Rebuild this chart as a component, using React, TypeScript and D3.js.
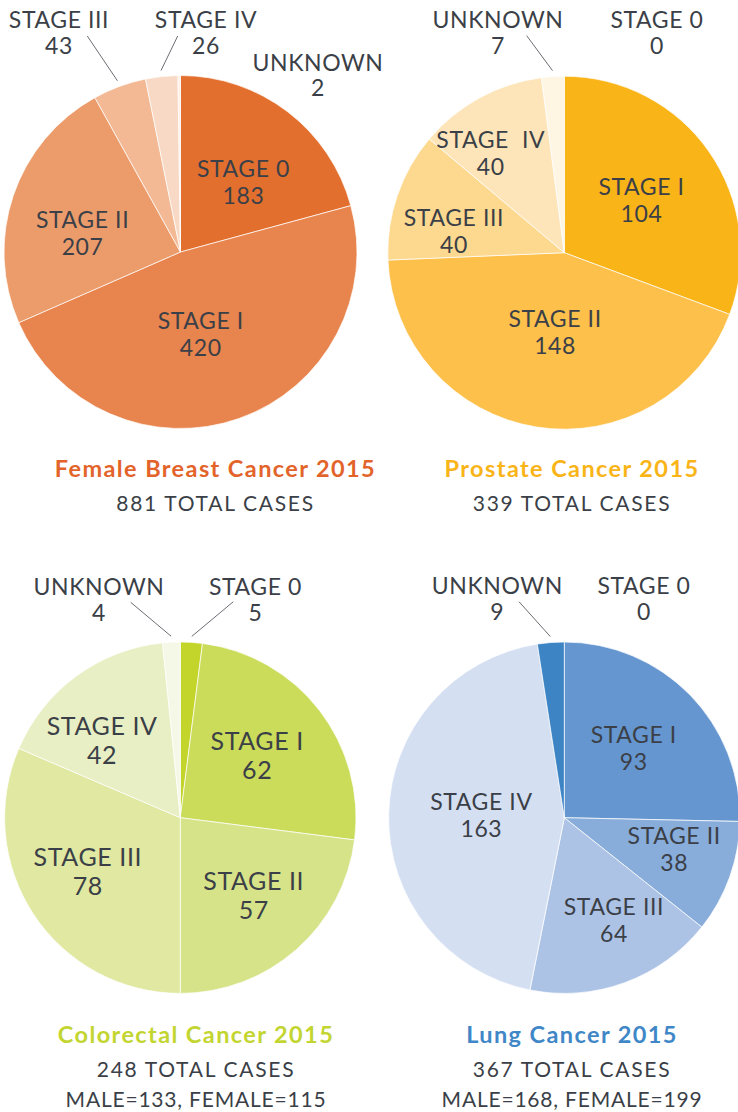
import * as d3 from 'd3';

// stage categories, clockwise from 12 o'clock
const stages = ['STAGE 0', 'STAGE I', 'STAGE II', 'STAGE III', 'STAGE IV', 'UNKNOWN'];
const prostateStageNames = ['STAGE 0', 'STAGE I', 'STAGE II', 'STAGE III', 'STAGE  IV', 'UNKNOWN'];

const breastValues = [183, 420, 207, 43, 26, 2];
const prostateValues = [0, 104, 148, 40, 40, 7];
const colorectalValues = [5, 62, 57, 78, 42, 4];
const lungValues = [0, 93, 38, 64, 163, 9];

const titles = ['Female Breast Cancer 2015', 'Prostate Cancer 2015', 'Colorectal Cancer 2015', 'Lung Cancer 2015'];
const totals = ['881 TOTAL CASES', '339 TOTAL CASES', '248 TOTAL CASES', '367 TOTAL CASES'];
const genderSplit = ['', '', 'MALE=133, FEMALE=115', 'MALE=168, FEMALE=199'];

const breastColors = ['#e36f2e', '#e8844d', '#ec9c6b', '#f3b994', '#f8d9c5', '#fdf0e6'];
const prostateColors = ['#f9b418', '#f9b418', '#fcc04b', '#fdd88f', '#fde5b9', '#fef5e3'];
const colorectalColors = ['#c3d52b', '#cbdb5a', '#d7e389', '#e0e8a1', '#e9efc4', '#f6f8e7'];
const lungColors = ['#3d84c5', '#6596cf', '#88addb', '#adc3e6', '#d4e0f2', '#3d84c5'];
const titleColors = ['#e3642b', '#f9b418', '#c3d530', '#3f87c7'];

const textColor = '#3b3f47';

type Layout = {
  cx: number; cy: number; r: number;
  fs: number; lh: number;
  nudge: ([number, number] | null)[];
  outside: ([number, number] | null)[];
  leader: ([number, number] | null)[];
  titleX: number; titleY: number;
};

const layouts: Layout[] = [
  {
    cx: 180.5, cy: 252, r: 176.5, fs: 23, lh: 27,
    nudge: [[4, 2], [-12, -15], [-6, 7], null, null, null],
    outside: [null, null, null, [-121.5, -223.7], [25.5, -223.7], [137.5, -181.3]],
    leader: [null, null, null, [28.3, 7.7], [-28.3, 7.7], null],
    titleX: 215.5, titleY: 477,
  },
  {
    cx: 564.3, cy: 252.7, r: 176.5, fs: 23, lh: 27,
    nudge: [null, [-2.5, -2.4], [6, -22], [-18.5, 4.3], [-27, -20], null],
    outside: [[92.7, -224.7], null, null, null, null, [-66.3, -224.7]],
    leader: [null, null, null, null, null, [28.7, 7.7]],
    titleX: 572, titleY: 477,
  },
  {
    cx: 180.3, cy: 817.7, r: 175.7, fs: 25, lh: 29.5,
    nudge: [null, [0.5, -9], [9.6, -0.5], [-11.8, -5], [-21, -5], null],
    outside: [[75.2, -222.7], null, null, null, null, [-81.3, -222.7]],
    leader: [[-22.2, 6.7], null, null, null, null, [31.7, 7.3]],
    titleX: 196, titleY: 1043,
  },
  {
    cx: 564.3, cy: 817.7, r: 175.7, fs: 23, lh: 27,
    nudge: [null, [0.4, -7.5], [19, -6.7], [16.4, 6.2], [13.7, -5.6], null],
    outside: [[79.7, -223.4], null, null, null, null, [-67, -223.4]],
    leader: [null, null, null, null, null, [21.7, 7.4]],
    titleX: 572, titleY: 1043,
  },
];

const charts = [
  { values: breastValues, colors: breastColors, names: stages },
  { values: prostateValues, colors: prostateColors, names: prostateStageNames },
  { values: colorectalValues, colors: colorectalColors, names: stages },
  { values: lungValues, colors: lungColors, names: stages },
];

const font = 'Lato, "Noto Sans", sans-serif';

const PieChart = ({ idx }: { idx: number }) => {
  const { values, colors, names } = charts[idx];
  const L = layouts[idx];
  const pie = d3.pie<number>().sort(null).value(d => d);
  const arcs = pie(values);
  const arc = d3.arc<d3.PieArcDatum<number>>().innerRadius(0).outerRadius(L.r);
  const labelArc = d3.arc<d3.PieArcDatum<number>>().innerRadius(L.r * 0.55).outerRadius(L.r * 0.55);
  const outsideOuterPoint = (a: d3.PieArcDatum<number>) => {
    const m = (a.startAngle + a.endAngle) / 2;
    const rr = L.r + 6;
    return [rr * Math.sin(m), -rr * Math.cos(m)];
  };

  return (
    <g>
      <g transform={`translate(${L.cx},${L.cy})`}>
        {arcs.map((a, i) => (
          a.value > 0 ? <path key={i} d={arc(a) || ''} fill={colors[i]} stroke="#fff" strokeWidth={0.7} /> : null
        ))}
        {arcs.map((a, i) => {
          let x: number, y: number, fs = L.fs, lh = L.lh;
          if (L.nudge[i]) {
            const c = labelArc.centroid(a);
            x = c[0] + L.nudge[i]![0];
            y = c[1] + L.nudge[i]![1];
          } else if (L.outside[i]) {
            x = L.outside[i]![0];
            y = L.outside[i]![1];
            fs = 23; lh = 25.5;
          } else return null;
          const lead = L.leader[i];
          const p = outsideOuterPoint(a);
          return (
            <g key={'l' + i}>
              {lead && (
                <line x1={x + lead[0]} y1={y + lead[1]} x2={p[0]} y2={p[1]} stroke="#6a6d73" strokeWidth={1} />
              )}
              <text x={x} y={y} textAnchor="middle" fontSize={fs} fill={textColor} letterSpacing={0.6}
                style={{ whiteSpace: 'pre' }}>
                {names[i]}
              </text>
              <text x={x} y={y + lh} textAnchor="middle" fontSize={fs} fill={textColor} letterSpacing={0.6}>
                {values[i]}
              </text>
            </g>
          );
        })}
      </g>
      <text x={L.titleX} y={L.titleY} textAnchor="middle" fontSize={23.5} fontWeight={700}
        fill={titleColors[idx]} letterSpacing={1.4}>
        {titles[idx]}
      </text>
      <text x={L.titleX} y={L.titleY + 33.5} textAnchor="middle" fontSize={21} fill={textColor} letterSpacing={1.7}>
        {totals[idx]}
      </text>
      {genderSplit[idx] && (
        <text x={L.titleX} y={L.titleY + 64} textAnchor="middle" fontSize={21} fill={textColor} letterSpacing={0.8}>
          {genderSplit[idx]}
        </text>
      )}
    </g>
  );
};

export default function App() {
  return (
    <svg width={738} height={1112} style={{ position: 'absolute', left: 0, top: 0, background: '#fff' }}
      fontFamily={font} fontWeight={400}>
      {[0, 1, 2, 3].map(i => <PieChart key={i} idx={i} />)}
    </svg>
  );
}
